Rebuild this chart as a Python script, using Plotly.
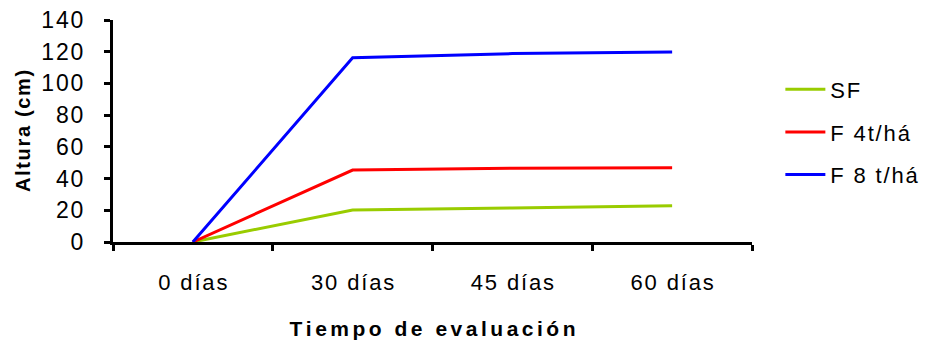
import plotly.graph_objects as go

categories = ["0 días", "30 días", "45 días", "60 días"]
sf = [0, 20.2, 21.5, 22.9]
f4 = [0, 45.4, 46.5, 46.9]
f8 = [0, 116.2, 118.8, 119.8]
series_names = ["SF", "F 4t/há", "F 8 t/há"]
colors = ["#99CC00", "#FF0000", "#0000FF"]
y_ticks = [0, 20, 40, 60, 80, 100, 120, 140]

HS = "\u200a"
def spaced(s, n=1):
    return (HS * n).join(list(s))

fig = go.Figure()
for i, (name, vals, c) in enumerate(zip(series_names, [sf, f4, f8], colors)):
    fig.add_trace(go.Scatter(x=categories, y=vals, mode="lines", name=spaced(name),
                             legendgroup=f"g{i}",
                             line=dict(color=c, width=3)))

font = "Liberation Sans, Arial, sans-serif"
fig.update_layout(
    width=929, height=340,
    margin=dict(l=113, r=177, t=20, b=98),
    paper_bgcolor="white", plot_bgcolor="white",
    font=dict(family=font, color="black", size=22),
    legend=dict(xref="container", yref="container",
                x=0.840, y=0.7985, xanchor="left", yanchor="top",
                font=dict(size=22), traceorder="grouped", tracegroupgap=11,
                itemwidth=40, bgcolor="rgba(0,0,0,0)"),
    xaxis=dict(
        type="category", range=[-0.5, 3.5], tickson="boundaries",
        showline=True, linecolor="black", linewidth=3,
        ticks="outside", ticklen=6, tickwidth=3, tickcolor="black",
        showgrid=False, zeroline=False, automargin=False,
        tickmode="array", tickvals=categories,
        ticktext=[spaced(c) for c in categories],
        tickfont=dict(size=22), ticklabelstandoff=19,
        title=dict(text="<b>" + spaced("Tiempo de evaluación", 2) + "</b>",
                   font=dict(size=21), standoff=27),
    ),
    yaxis=dict(
        range=[0, 140],
        showline=True, linecolor="black", linewidth=3,
        ticks="outside", ticklen=6, tickwidth=3, tickcolor="black",
        showgrid=False, zeroline=False, automargin=False,
        tickmode="array", tickvals=y_ticks,
        ticktext=[spaced(str(v)) for v in y_ticks],
        tickfont=dict(size=23), ticklabelstandoff=16,
        title=dict(text="<b>" + spaced("Altura (cm)") + "</b>",
                   font=dict(size=20), standoff=6),
    ),
)

fig.write_html("out.html", config={"displayModeBar": False},
               post_script="document.body.style.margin='0';")
